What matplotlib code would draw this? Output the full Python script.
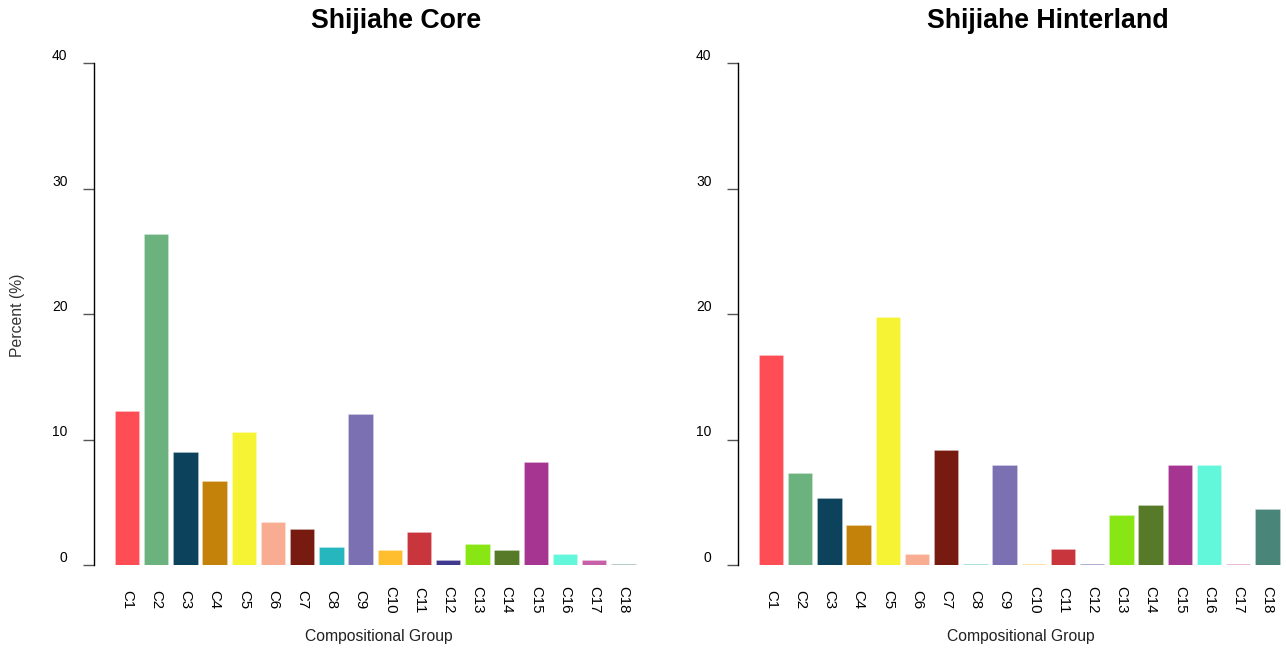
import matplotlib
matplotlib.use("Agg")
import matplotlib.pyplot as plt
from matplotlib.transforms import blended_transform_factory

plt.rcParams['font.family'] = ['Liberation Sans', 'DejaVu Sans']

groups = ["C1", "C2", "C3", "C4", "C5", "C6", "C7", "C8", "C9",
          "C10", "C11", "C12", "C13", "C14", "C15", "C16", "C17", "C18"]

core_pct = [12.3, 26.4, 9.0, 6.7, 10.6, 3.4, 2.9, 1.4, 12.0,
            1.2, 2.6, 0.4, 1.7, 1.2, 8.2, 0.9, 0.4, 0.1]

hinterland_pct = [16.7, 7.3, 5.3, 3.2, 19.8, 0.9, 9.2, 0.1, 8.0,
                  0.1, 1.3, 0.1, 4.0, 4.8, 8.0, 8.0, 0.1, 4.5]

group_colors = ["#FF4D55", "#6BB27E", "#0D425C", "#C4820A", "#F5F333",
                "#F8AD93", "#771A10", "#25B6BE", "#7A70B2", "#FFBE2E",
                "#C8353C", "#3F3A8E", "#88E614", "#567A27", "#A53590",
                "#62F7DA", "#C761A7", "#4A857A"]

panel_titles = ["Shijiahe Core", "Shijiahe Hinterland"]
y_ticks = [0, 10, 20, 30, 40]

W, H = 1286, 649
fig = plt.figure(figsize=(W / 100, H / 100), dpi=100)

pitch = 29.2          # pixels between bar centres
ax_w_px = 548
y0_px, y40_px = 565, 63


def draw_panel(left_px, values, title, title_x, xlabel_x, show_ylabel):
    ax = fig.add_axes([left_px / W, (H - y0_px) / H,
                       ax_w_px / W, (y0_px - y40_px) / H])
    x = list(range(len(groups)))
    ax.bar(x, values, width=1 / 1.2, color=group_colors,
           edgecolor=(1, 1, 1, 0.35), linewidth=0.4)
    first = -1.13
    ax.set_xlim(first, first + ax_w_px / pitch)
    ax.set_ylim(0, 40)
    for s in ["top", "right", "bottom"]:
        ax.spines[s].set_visible(False)
    ax.spines["left"].set_linewidth(1.0)
    ax.spines["left"].set_color("black")
    ax.set_xticks([])
    ax.set_yticks(y_ticks)
    ax.set_yticklabels([str(t) for t in y_ticks], fontsize=10, color="black",
                       va="bottom")
    ax.tick_params(axis="y", length=8, width=1, color="#555555", pad=11)
    trans = blended_transform_factory(ax.transData, fig.transFigure)
    for xi, g in zip(x, groups):
        ax.text(xi, (H - 600) / H, g, rotation=270, ha="center", va="center",
                fontsize=10.8, transform=trans, color="black")
    fig.text(title_x / W, (H - 21) / H, title, ha="center", va="center",
             fontsize=19.3, fontweight="bold")
    fig.text(xlabel_x / W, (H - 637) / H, "Compositional Group",
             ha="center", va="center", fontsize=11.3, color="#222222")
    if show_ylabel:
        fig.text(18 / W, (H - 315) / H, "Percent (%)", rotation=90,
                 ha="center", va="center", fontsize=11.3, color="#333333")
    return ax


draw_panel(94, core_pct, panel_titles[0], 396, 379, True)
draw_panel(738, hinterland_pct, panel_titles[1], 1048, 1021, False)

fig.savefig("out.png", dpi=100, facecolor="white")
